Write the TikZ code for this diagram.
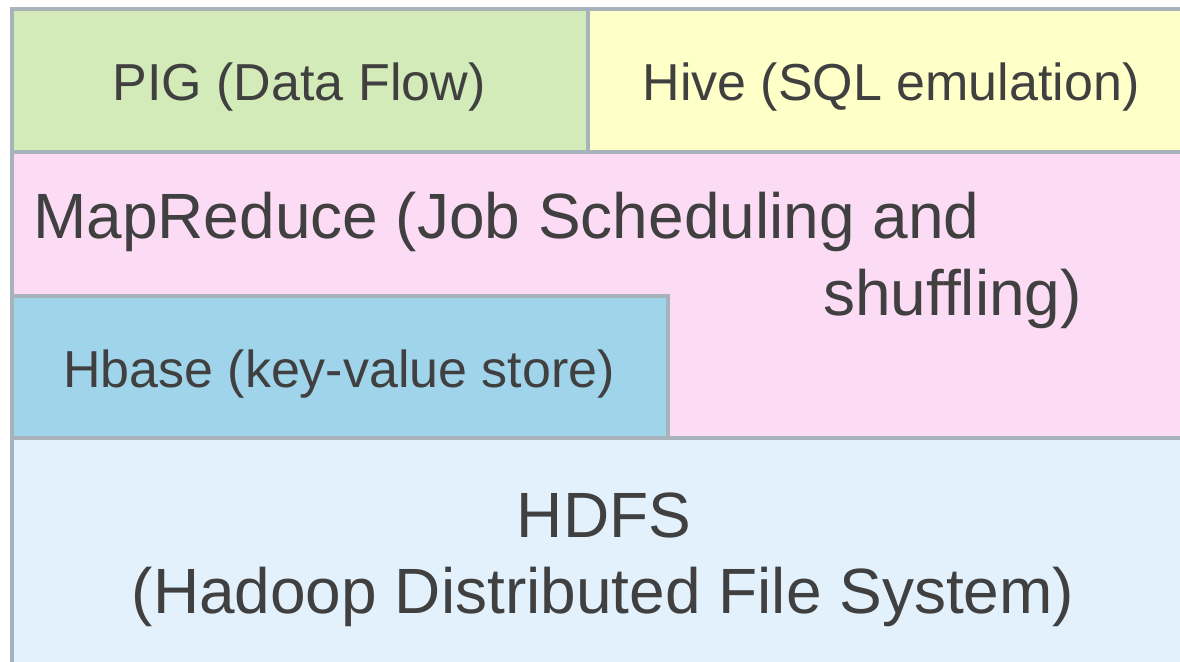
\documentclass[tikz,border=0pt]{standalone}
\usepackage{fontspec}
\setmainfont{Liberation Sans}
\definecolor{bordc}{HTML}{A8B2BA}
\definecolor{txtc}{HTML}{404040}
\definecolor{pigc}{HTML}{D3EBB8}
\definecolor{hivec}{HTML}{FFFFC8}
\definecolor{mrc}{HTML}{FCDCF5}
\definecolor{hbc}{HTML}{A0D4EA}
\definecolor{hdfsc}{HTML}{E2F1FC}
\begin{document}
\begin{tikzpicture}[x=1pt,y=-1pt,
  layer/.style={draw=bordc, line width=4pt, inner sep=0pt, outer sep=0pt, anchor=north west},
  bigtxt/.style={text=txtc, inner sep=0pt, font=\fontsize{64}{76}\selectfont},
  midtxt/.style={text=txtc, inner sep=0pt, font=\fontsize{52}{62}\selectfont}]
\useasboundingbox (0,0) rectangle (1180,661);
\clip (0,0) rectangle (1180,661);
\node[layer, fill=mrc, minimum width=1200pt, minimum height=286pt] (mr) at (12,152) {};
\node[layer, fill=hbc, minimum width=656pt, minimum height=142pt] (hb) at (12,296) {};
\node[layer, fill=pigc, minimum width=576pt, minimum height=143pt] (pig) at (12,9) {};
\node[layer, fill=hivec, minimum width=606pt, minimum height=143pt] (hive) at (588,9) {};
\node[layer, fill=hdfsc, minimum width=1200pt, minimum height=260pt] (hdfs) at (12,438) {};
\node[midtxt, anchor=base] (pigt) at (299,100) {PIG (Data Flow)};
\node[midtxt, anchor=base] (hivet) at (891,100) {Hive (SQL emulation)};
\node[bigtxt, anchor=base west] (mrt1) at (33,238) {MapReduce (Job Scheduling and};
\node[bigtxt, anchor=base east] (mrt2) at (1082,315) {shuffling)};
\node[midtxt, anchor=base] (hbt) at (339,387) {Hbase (key-value store)};
\node[bigtxt, anchor=base] (hdfst1) at (604,537) {HDFS};
\node[bigtxt, anchor=base] (hdfst2) at (603,613) {(Hadoop Distributed File System)};
\end{tikzpicture}
\end{document}
